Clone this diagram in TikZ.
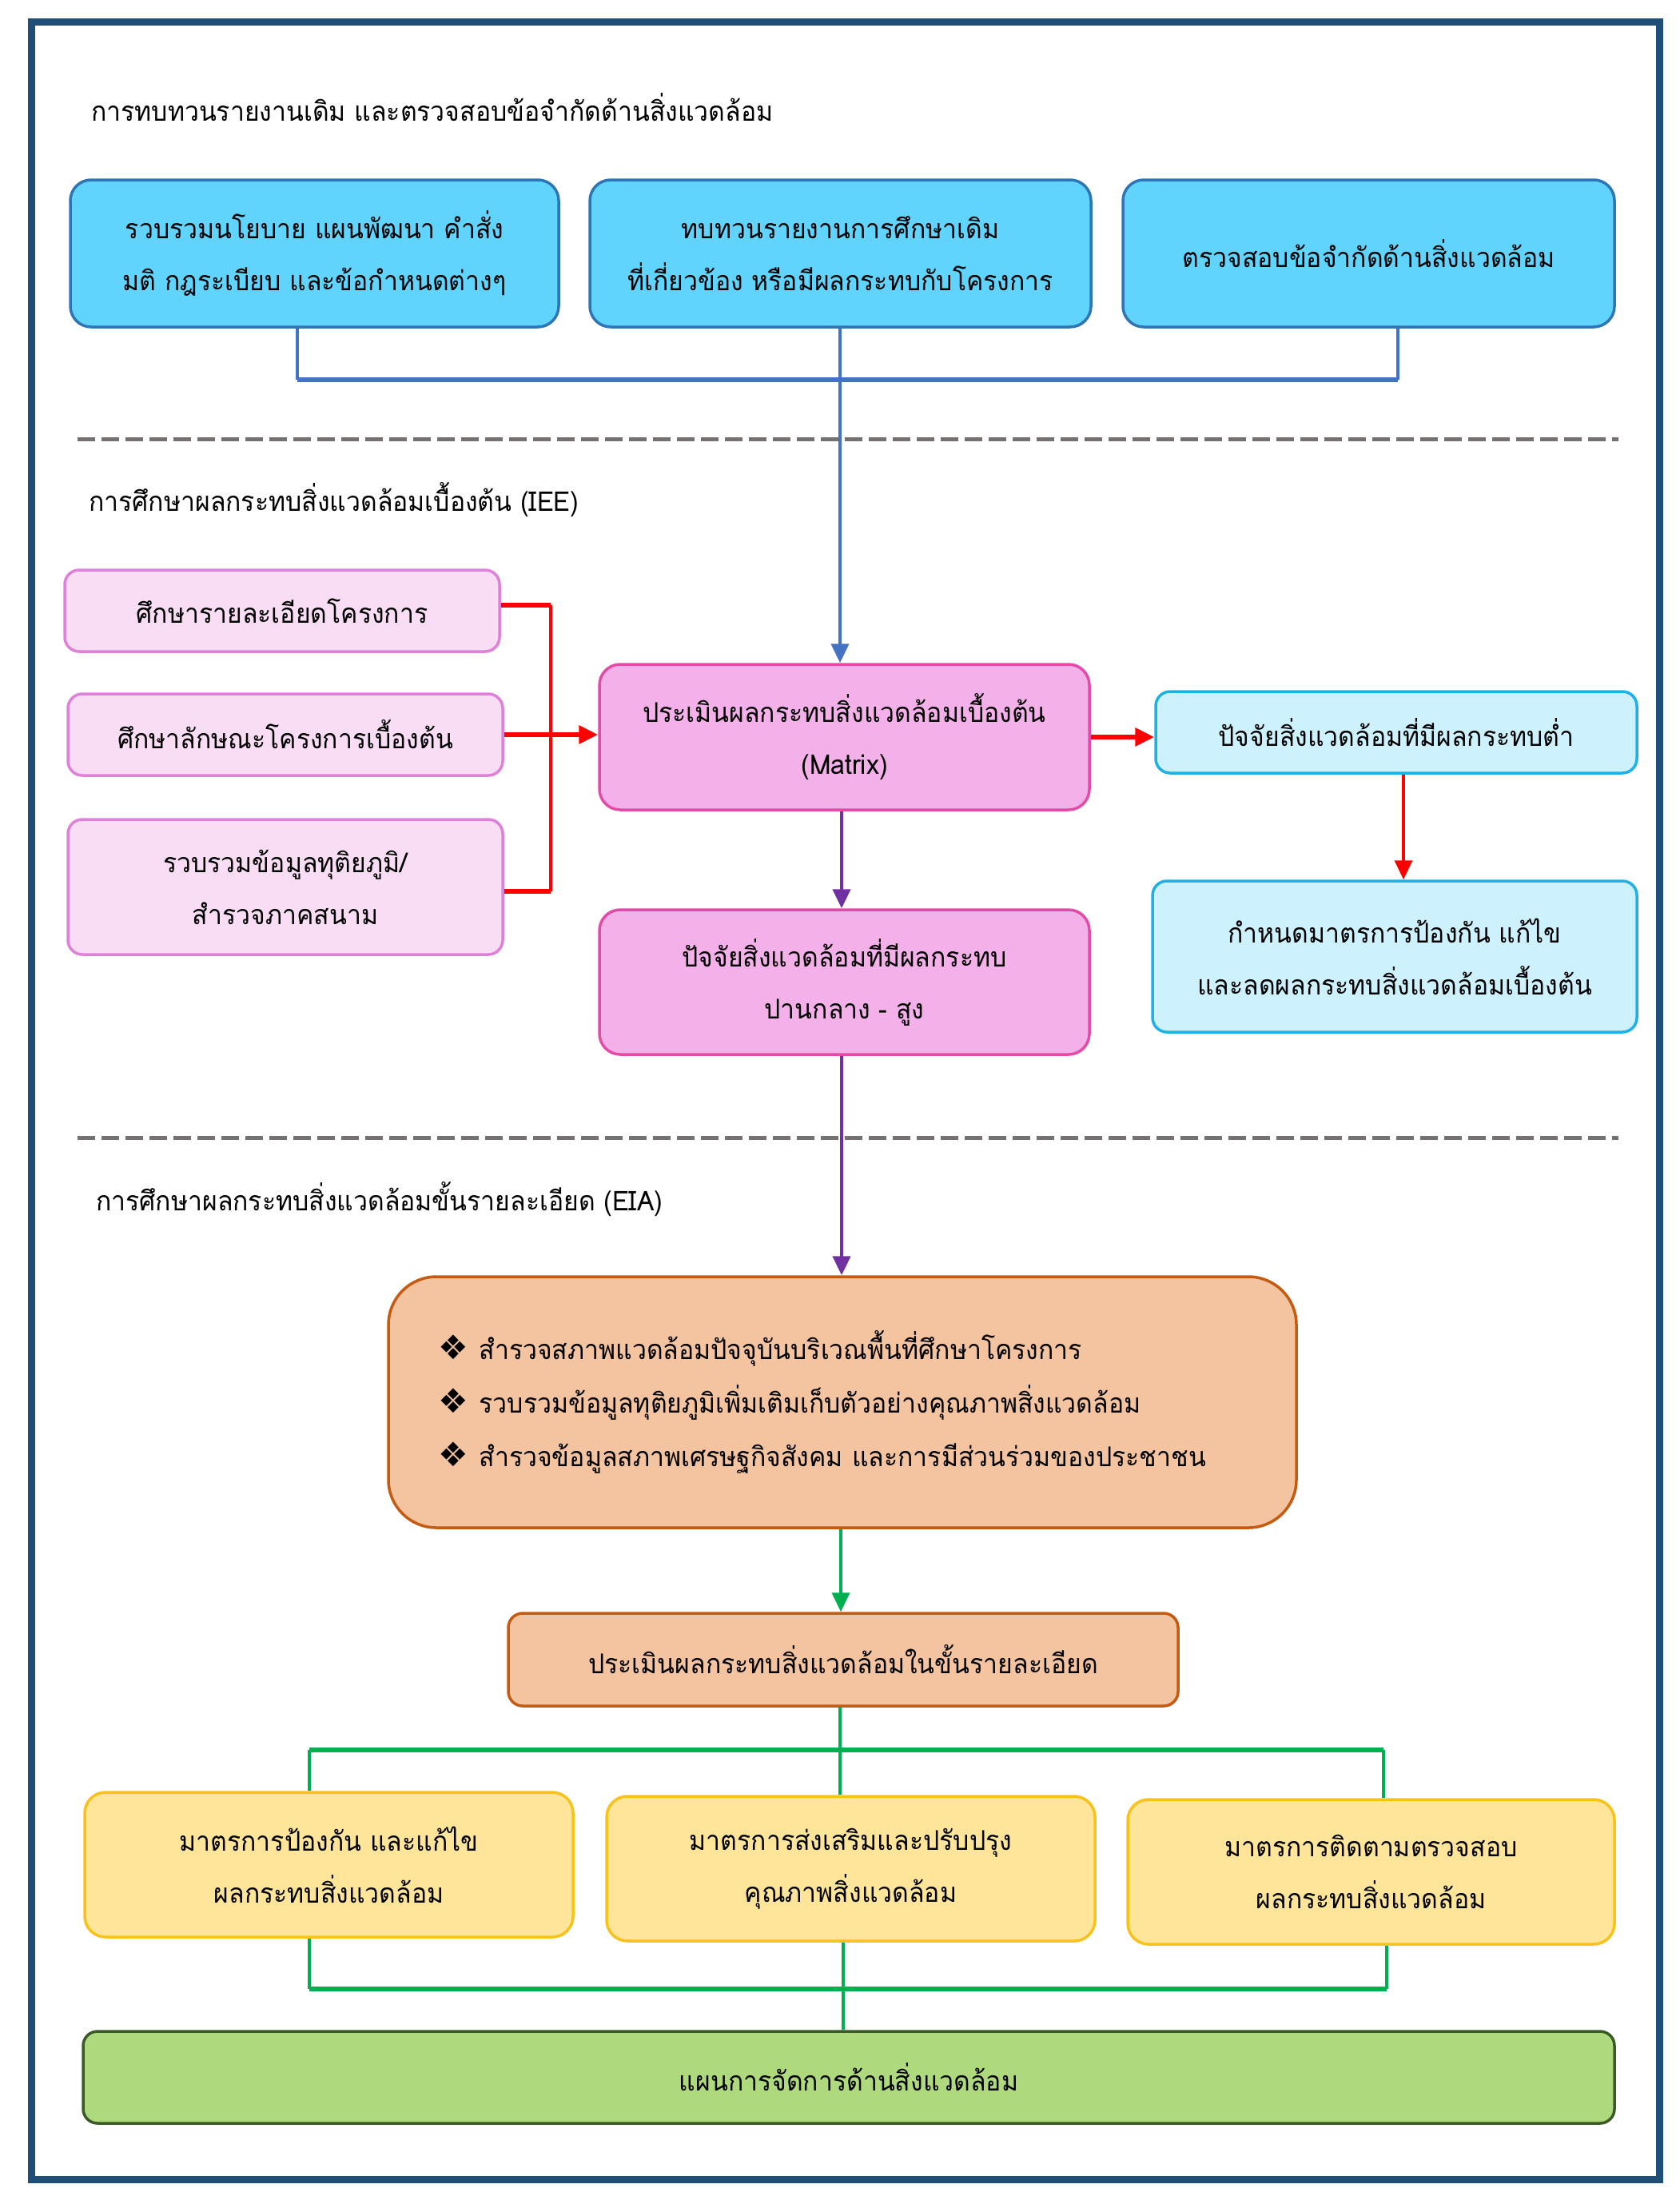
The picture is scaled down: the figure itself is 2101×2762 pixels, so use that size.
\documentclass[tikz,border=0pt]{standalone}
\usepackage{fontspec}
\setmainfont[Script=Thai,FakeStretch=0.94]{Loma}
\newfontfamily\symfnt{DejaVu Sans}
\usetikzlibrary{arrows.meta,calc}
\definecolor{cFrame}{HTML}{1F4E79}
\definecolor{cBlueF}{HTML}{61D4FE}
\definecolor{cBlueD}{HTML}{2E75B6}
\definecolor{cBLine}{HTML}{4472C4}
\definecolor{cPinkLF}{HTML}{F8DDF5}
\definecolor{cPinkLD}{HTML}{DF80D9}
\definecolor{cPinkF}{HTML}{F4B0E8}
\definecolor{cPinkD}{HTML}{E24BA8}
\definecolor{cCyanF}{HTML}{CDF1FD}
\definecolor{cCyanD}{HTML}{1FB0E6}
\definecolor{cPeachF}{HTML}{F4C39F}
\definecolor{cPeachD}{HTML}{C55A11}
\definecolor{cYelF}{HTML}{FEE59A}
\definecolor{cYelD}{HTML}{F8C21A}
\definecolor{cGrnF}{HTML}{AEDA7D}
\definecolor{cGrnD}{HTML}{3A5A28}
\definecolor{cRed}{HTML}{FF0000}
\definecolor{cPurp}{HTML}{7030A0}
\definecolor{cGLine}{HTML}{00B050}
\definecolor{cDash}{HTML}{767171}
\newcommand\thtext{\fontsize{34}{65}\selectfont}
\newcommand\dia{{\symfnt\fontsize{42}{42}\selectfont ❖}}
\tikzset{
  box/.style={rounded corners=26pt, line width=3.5pt, align=center, inner sep=0pt, font=\thtext, text=black},
  bluebox/.style={box, fill=cBlueF, draw=cBlueD},
  plbox/.style={box, fill=cPinkLF, draw=cPinkLD, rounded corners=18pt},
  pbox/.style={box, fill=cPinkF, draw=cPinkD},
  cbox/.style={box, fill=cCyanF, draw=cCyanD, rounded corners=18pt},
  peachbox/.style={box, fill=cPeachF, draw=cPeachD},
  ybox/.style={box, fill=cYelF, draw=cYelD},
  gbox/.style={box, fill=cGrnF, draw=cGrnD, rounded corners=18pt},
  header/.style={anchor=west, inner sep=0pt, font=\thtext},
  tip/.style={-{Triangle[length=24pt,width=22pt]}},
  bline/.style={draw=cBLine, line width=4pt},
  rline/.style={draw=cRed, line width=5pt},
  pline/.style={draw=cPurp, line width=4.5pt},
  gline/.style={draw=cGLine, line width=4pt},
  sep/.style={draw=cDash, line width=5pt, dash pattern=on 22pt off 8pt},
}
\begin{document}
\begin{tikzpicture}[x=1pt,y=-1pt]
\useasboundingbox (0,0) rectangle (2101,2762);
\draw[cFrame, line width=9pt] (39,28) rectangle (2076,2726);

% section 1
\node[header] (h1) at (114,134) {การทบทวนรายงานเดิม และตรวจสอบข้อจำกัดด้านสิ่งแวดล้อม};
\node[bluebox, minimum width=611pt, minimum height=184pt] (A) at (393.5,317) {รวบรวมนโยบาย แผนพัฒนา คำสั่ง\\มติ กฎระเบียบ และข้อกำหนดต่างๆ};
\node[bluebox, minimum width=627pt, minimum height=184pt] (B) at (1051.5,317) {ทบทวนรายงานการศึกษาเดิม\\ที่เกี่ยวข้อง หรือมีผลกระทบกับโครงการ};
\node[bluebox, minimum width=615pt, minimum height=184pt] (C) at (1712.5,317) {ตรวจสอบข้อจำกัดด้านสิ่งแวดล้อม};

\coordinate (jl) at (372,475);
\coordinate (jm) at (1051,475);
\coordinate (jr) at (1749,475);

\draw[sep] (97,549) -- (2025,549);
\draw[sep] (97,1423) -- (2025,1423);

% section 2
\node[header] (h2) at (111,625) {การศึกษาผลกระทบสิ่งแวดล้อมเบื้องต้น (IEE)};
\node[plbox, minimum width=544pt, minimum height=102pt] (P1) at (353,764) {ศึกษารายละเอียดโครงการ};
\node[plbox, minimum width=544pt, minimum height=102pt] (P2) at (357,919) {ศึกษาลักษณะโครงการเบื้องต้น};
\node[plbox, minimum width=544pt, minimum height=169pt] (P3) at (357,1109.5) {รวบรวมข้อมูลทุติยภูมิ/\\สำรวจภาคสนาม};
\node[pbox, minimum width=613pt, minimum height=182pt] (M) at (1056.5,922) {ประเมินผลกระทบสิ่งแวดล้อมเบื้องต้น\\(Matrix)};
\node[cbox, minimum width=602pt, minimum height=102pt] (L) at (1747,916) {ปัจจัยสิ่งแวดล้อมที่มีผลกระทบต่ำ};
\node[cbox, minimum width=606pt, minimum height=189pt] (R) at (1745,1196.5) {กำหนดมาตรการป้องกัน แก้ไข\\และลดผลกระทบสิ่งแวดล้อมเบื้องต้น};
\node[pbox, minimum width=613pt, minimum height=181pt] (H) at (1056.5,1228.5) {ปัจจัยสิ่งแวดล้อมที่มีผลกระทบ\\ปานกลาง - สูง};

% section 3
\node[header] (h3) at (120,1500) {การศึกษาผลกระทบสิ่งแวดล้อมขั้นรายละเอียด (EIA)};
\node[peachbox, rounded corners=60pt, minimum width=1136pt, minimum height=314pt, text width=1012pt, align=left, font=\fontsize{34}{67}\selectfont] (E) at (1054,1754) {\dia\hspace{14pt}สำรวจสภาพแวดล้อมปัจจุบันบริเวณพื้นที่ศึกษาโครงการ\\
\dia\hspace{14pt}รวบรวมข้อมูลทุติยภูมิเพิ่มเติมเก็บตัวอย่างคุณภาพสิ่งแวดล้อม\\
\dia\hspace{14pt}สำรวจข้อมูลสภาพเศรษฐกิจสังคม และการมีส่วนร่วมของประชาชน};
\node[peachbox, rounded corners=18pt, minimum width=838pt, minimum height=116pt] (S) at (1055,2076) {ประเมินผลกระทบสิ่งแวดล้อมในขั้นรายละเอียด};
\node[ybox, minimum width=611pt, minimum height=181pt] (Y1) at (411.5,2332.5) {มาตรการป้องกัน และแก้ไข\\ผลกระทบสิ่งแวดล้อม};
\node[ybox, minimum width=611pt, minimum height=181pt] (Y2) at (1064.5,2337.5) {มาตรการส่งเสริมและปรับปรุง\\คุณภาพสิ่งแวดล้อม};
\node[ybox, minimum width=609pt, minimum height=181pt] (Y3) at (1715.5,2341.5) {มาตรการติดตามตรวจสอบ\\ผลกระทบสิ่งแวดล้อม};
\node[gbox, minimum width=1916pt, minimum height=115pt] (G) at (1062,2598.5) {แผนการจัดการด้านสิ่งแวดล้อม};

% blue connectors
\draw[bline] (A.south -| jl) -- (jl);
\draw[bline] (C.south -| jr) -- (jr);
\draw[bline, line width=6pt] (jl) -- (jr);
\draw[bline, tip] (B.south -| jm) -- (jm |- M.north);

% red connectors
\coordinate (rv1) at (689,757);
\coordinate (rv3) at (689,1115);
\draw[rline, line width=6pt] (P1.east |- rv1) -- (rv1);
\draw[rline, line width=6pt] (P3.east |- rv3) -- (rv3);
\draw[rline, line width=4pt] (rv1) -- (rv3);
\draw[rline, line width=6pt, tip] (P2.east) -- (M.west |- P2.east);
\draw[rline, line width=6pt, tip] (M.east) -- (L.west |- M.east);
\coordinate (lr) at (1756,0);
\draw[rline, line width=3.5pt, tip] (L.south -| lr) -- (R.north -| lr);

% purple connectors
\coordinate (pm) at (1053,0);
\draw[pline, tip] (M.south -| pm) -- (H.north -| pm);
\draw[pline, tip] (H.south -| pm) -- (E.north -| pm);

% green connectors
\coordinate (ge) at (1052,0);
\draw[gline, tip] (E.south -| ge) -- (S.north -| ge);
\coordinate (gl) at (387,2189);
\coordinate (gm) at (1051,2189);
\coordinate (gr) at (1731,2189);
\draw[gline] (S.south -| gm) -- (gm);
\draw[gline, line width=6pt] (gl) -- (gr);
\draw[gline] (gl) -- (gl |- Y1.north);
\draw[gline] (gm) -- (gm |- Y2.north);
\draw[gline] (gr) -- (gr |- Y3.north);
\coordinate (bl) at (387,2488);
\coordinate (bm) at (1055,2488);
\coordinate (br) at (1735,2488);
\draw[gline] (Y1.south -| bl) -- (bl);
\draw[gline] (Y3.south -| br) -- (br);
\draw[gline, line width=6pt] (bl) -- (br);
\draw[gline] (Y2.south -| bm) -- (bm |- G.north);
\end{tikzpicture}
\end{document}
